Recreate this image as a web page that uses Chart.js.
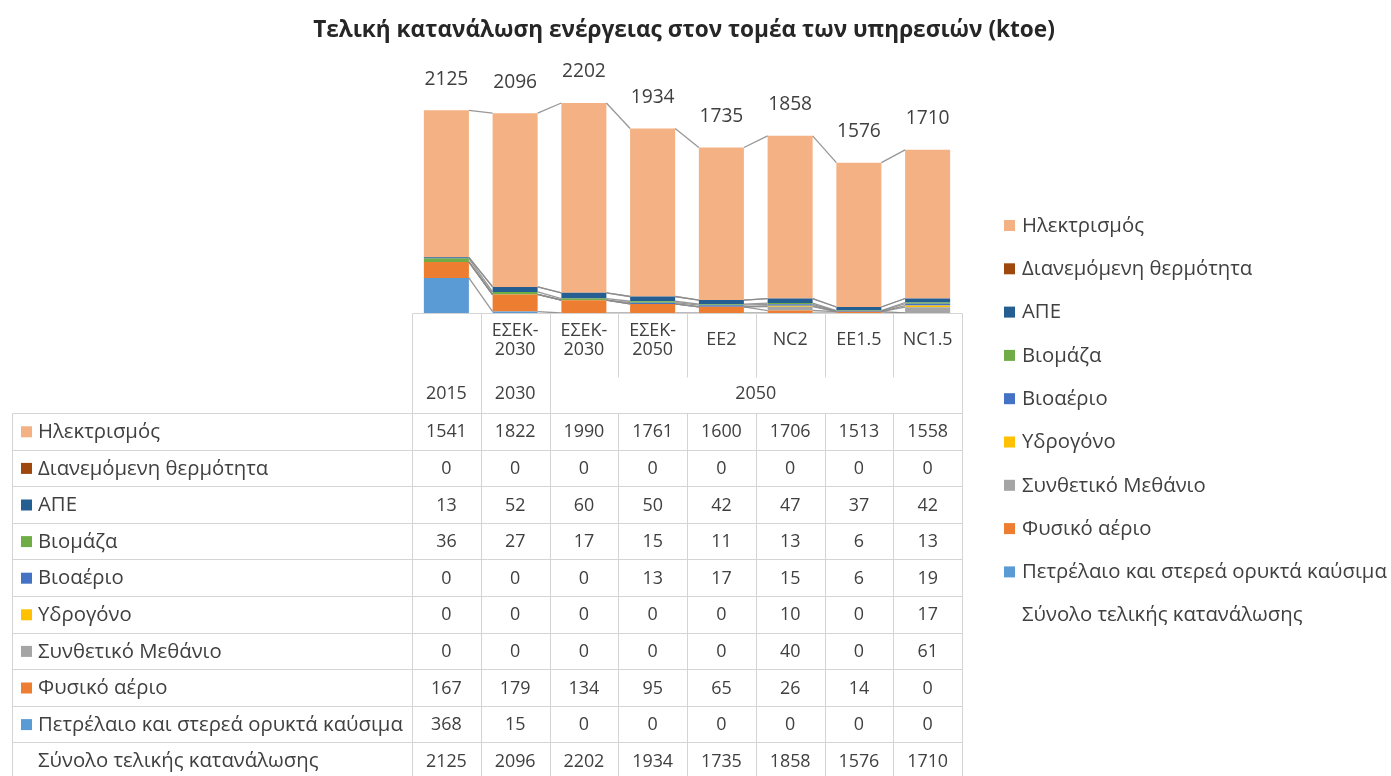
<!DOCTYPE html>
<html><head><meta charset="utf-8">
<script src="https://cdn.jsdelivr.net/npm/chart.js@4.4.1/dist/chart.umd.min.js"></script>
<style>html,body{margin:0;padding:0;background:#fff}canvas{display:block}</style>
</head><body>
<canvas id="c" width="1391" height="776"></canvas>
<script>
// ---------- data ----------
const chartTitle = 'Τελική κατανάλωση ενέργειας στον τομέα των υπηρεσιών (ktoe)';
const scenarioLabels = [[''], ['ΕΣΕΚ-', '2030'], ['ΕΣΕΚ-', '2030'], ['ΕΣΕΚ-', '2050'], ['EE2'], ['NC2'], ['EE1.5'], ['NC1.5']];
const yearLabels = ['2015', '2030', '2050', '2050', '2050', '2050', '2050', '2050'];

const electricity   = [1541, 1822, 1990, 1761, 1600, 1706, 1513, 1558];
const districtHeat  = [0, 0, 0, 0, 0, 0, 0, 0];
const renewables    = [13, 52, 60, 50, 42, 47, 37, 42];
const biomass       = [36, 27, 17, 15, 11, 13, 6, 13];
const biogas        = [0, 0, 0, 13, 17, 15, 6, 19];
const hydrogen      = [0, 0, 0, 0, 0, 10, 0, 17];
const synthMethane  = [0, 0, 0, 0, 0, 40, 0, 61];
const naturalGas    = [167, 179, 134, 95, 65, 26, 14, 0];
const oilSolid      = [368, 15, 0, 0, 0, 0, 0, 0];
const totalFinal    = [2125, 2096, 2202, 1934, 1735, 1858, 1576, 1710];

const seriesNames = ['Ηλεκτρισμός', 'Διανεμόμενη θερμότητα', 'ΑΠΕ', 'Βιομάζα', 'Βιοαέριο', 'Υδρογόνο', 'Συνθετικό Μεθάνιο', 'Φυσικό αέριο', 'Πετρέλαιο και στερεά ορυκτά καύσιμα'];
const seriesValues = [electricity, districtHeat, renewables, biomass, biogas, hydrogen, synthMethane, naturalGas, oilSolid];
const seriesColors = ['#F4B183', '#9E480E', '#255E91', '#70AD47', '#4472C4', '#FFC000', '#A5A5A5', '#ED7D31', '#5B9BD5'];
const totalName = 'Σύνολο τελικής κατανάλωσης';

// ---------- styling ----------
const FAM = '"Open Sans", "Noto Sans", "DejaVu Sans", sans-serif';
const TXT = '#404040';
const GRID = '#d4d4d4';

// build datasets: bottom of stack first
const datasets = [];
for (let k = seriesNames.length - 1; k >= 0; k--) {
  datasets.push({
    type: 'bar', label: seriesNames[k], data: seriesValues[k],
    backgroundColor: seriesColors[k], borderWidth: 0, stack: 'energy',
    barPercentage: 0.655, categoryPercentage: 1.0, tableRow: k
  });
}
datasets.push({
  type: 'line', label: totalName, data: totalFinal, stack: 'total',
  showLine: false, pointRadius: 0, borderColor: 'rgba(0,0,0,0)', backgroundColor: 'rgba(0,0,0,0)'
});

function fitFont(ctx, text, width, weight) {
  ctx.font = weight + ' 100px ' + FAM;
  return 100 * width / ctx.measureText(text).width;
}

const extras = {
  id: 'extras',
  afterDatasetsDraw(chart) {
    const ctx = chart.ctx;
    // series lines between adjacent bars
    ctx.save();
    ctx.strokeStyle = 'rgba(140,140,140,0.9)';
    ctx.lineWidth = 1.3;
    chart.data.datasets.forEach((ds, di) => {
      if (ds.type !== 'bar') return;
      const els = chart.getDatasetMeta(di).data;
      for (let i = 0; i < els.length - 1; i++) {
        const a = els[i], b = els[i + 1];
        ctx.beginPath();
        ctx.moveTo(a.x + a.width / 2, a.y);
        ctx.lineTo(b.x - b.width / 2, b.y);
        ctx.stroke();
      }
    });
    ctx.restore();
  },
  afterDraw(chart) {
    const ctx = chart.ctx;
    const xs = chart.scales.x;
    const area = chart.chartArea;
    const n = chart.data.labels.length;
    const half = (xs.getPixelForValue(1) - xs.getPixelForValue(0)) / 2;
    const colL = i => xs.getPixelForValue(i) - half;
    const colR = i => xs.getPixelForValue(i) + half;
    const tableLeft = 12;
    const top = area.bottom;
    const headBottom = 413;
    const rowH = 36.6;
    const bottom = chart.height;
    ctx.save();

    // title
    const ts = fitFont(ctx, chartTitle, 742, 'bold');
    ctx.font = 'bold ' + ts + 'px ' + FAM;
    ctx.fillStyle = '#262626';
    ctx.textAlign = 'center'; ctx.textBaseline = 'middle';
    ctx.fillText(chartTitle, 684, 31);

    // total labels
    const lblSize = fitFont(ctx, '2125', 44, 'normal');
    ctx.font = lblSize + 'px ' + FAM;
    ctx.fillStyle = TXT;
    const totMeta = chart.getDatasetMeta(chart.data.datasets.length - 1);
    totMeta.data.forEach((p, i) => {
      ctx.fillText(String(totalFinal[i]), p.x, p.y - 31);
    });

    // table grid
    ctx.strokeStyle = GRID; ctx.lineWidth = 1;
    const line = (x1, y1, x2, y2) => { ctx.beginPath(); ctx.moveTo(Math.round(x1) + 0.5, Math.round(y1) + 0.5); ctx.lineTo(Math.round(x2) + 0.5, Math.round(y2) + 0.5); ctx.stroke(); };
    line(colL(0), top, colR(n - 1), top);
    for (let i = 0; i <= n; i++) {
      const x = i < n ? colL(i) : colR(n - 1);
      const groupEdge = (i === 0 || i === n || yearLabels[i] !== yearLabels[i - 1]);
      if (groupEdge) line(x, top, x, bottom);
      else { line(x, top, x, 377); line(x, headBottom, x, bottom); }
    }
    line(tableLeft, headBottom, tableLeft, bottom);
    for (let r = 0; r <= 10; r++) {
      const y = headBottom + r * rowH;
      if (y < bottom) line(tableLeft, y, colR(n - 1), y);
    }

    // header texts
    const numSize = fitFont(ctx, '1541', 41, 'normal');
    ctx.font = numSize + 'px ' + FAM;
    ctx.fillStyle = TXT;
    chart.data.labels.forEach((lines, i) => {
      const cx = xs.getPixelForValue(i);
      if (lines.length === 2) { ctx.fillText(lines[0], cx, 331); ctx.fillText(lines[1], cx, 350); }
      else ctx.fillText(lines[0], cx, 340);
    });
    let g = 0;
    while (g < n) {
      let e = g;
      while (e + 1 < n && yearLabels[e + 1] === yearLabels[g]) e++;
      ctx.fillText(yearLabels[g], (colL(g) + colR(e)) / 2, 394);
      g = e + 1;
    }

    // data rows
    const labSize = fitFont(ctx, seriesNames[8], 365, 'normal');
    for (let r = 0; r < 10; r++) {
      const cy = headBottom + r * rowH + rowH / 2;
      const vals = r < 9 ? seriesValues[r] : totalFinal;
      const name = r < 9 ? seriesNames[r] : totalName;
      if (r < 9) { ctx.fillStyle = seriesColors[r]; ctx.fillRect(21, cy - 5, 11, 11); }
      ctx.fillStyle = TXT;
      ctx.font = labSize + 'px ' + FAM;
      ctx.textAlign = 'left';
      ctx.fillText(name, 38, cy + 1);
      ctx.font = numSize + 'px ' + FAM;
      ctx.textAlign = 'center';
      vals.forEach((v, i) => ctx.fillText(String(v), xs.getPixelForValue(i), cy + 1));
    }

    // legend
    ctx.textAlign = 'left';
    ctx.font = labSize + 'px ' + FAM;
    for (let k = 0; k < 10; k++) {
      const cy = 225 + k * 43.3;
      if (k < 9) { ctx.fillStyle = seriesColors[k]; ctx.fillRect(1004, cy - 5, 11, 11); }
      ctx.fillStyle = TXT;
      ctx.fillText(k < 9 ? seriesNames[k] : totalName, 1022, cy + 1);
    }
    ctx.restore();
  }
};

new Chart(document.getElementById('c'), {
  data: { labels: scenarioLabels, datasets },
  options: {
    responsive: false, animation: false,
    layout: { padding: { left: 412, right: 429, top: 74.5, bottom: 463 } },
    scales: {
      x: { stacked: true, display: false },
      y: { stacked: true, display: false, min: 0, max: 2500 }
    },
    plugins: { legend: { display: false }, tooltip: { enabled: false }, title: { display: false } }
  },
  plugins: [extras]
});
</script>
</body></html>
